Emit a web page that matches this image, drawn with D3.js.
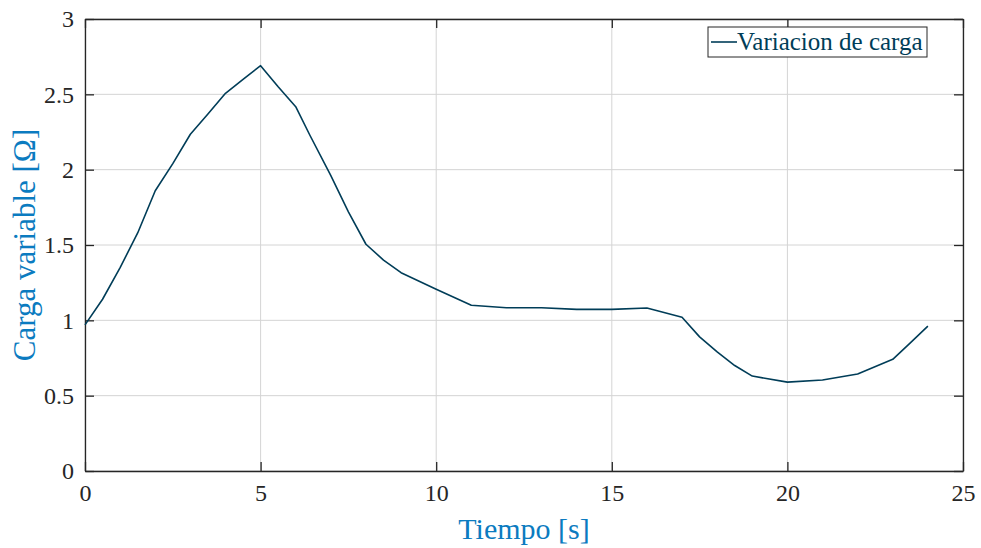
<!DOCTYPE html>
<html>
<head>
<meta charset="utf-8">
<script src="https://cdn.jsdelivr.net/npm/d3@7"></script>
<style>
  body { margin: 0; background: #fff; }
  svg text { font-family: "Liberation Serif", "Times New Roman", serif; }
</style>
</head>
<body>
<script>
// tiempo [s] y carga [ohm]
var tiempo = [0, 0.5, 1, 1.5, 2, 2.5, 3, 3.5, 4, 4.5, 5, 5.5, 6, 6.4, 7, 7.5, 8, 8.5, 9, 10, 11, 12, 13, 14, 15, 16, 17, 17.5, 18, 18.5, 19, 20, 21, 22, 23, 23.5, 24];
var carga = [0.97, 1.14, 1.35, 1.58, 1.86, 2.04, 2.235, 2.37, 2.507, 2.6, 2.69, 2.55, 2.418, 2.23, 1.96, 1.72, 1.505, 1.40, 1.316, 1.206, 1.10, 1.084, 1.084, 1.073, 1.073, 1.082, 1.02, 0.89, 0.79, 0.70, 0.63, 0.59, 0.604, 0.644, 0.741, 0.85, 0.962];
var xTicks = [0, 5, 10, 15, 20, 25];
var yTicks = [0, 0.5, 1, 1.5, 2, 2.5, 3];
var serie = "Variacion de carga";

var W = 981, H = 548;
var margin = {top: 19, right: 18, bottom: 77, left: 85},
    width = W - margin.left - margin.right,
    height = H - margin.top - margin.bottom;

var svg = d3.select("body").append("svg")
    .attr("width", W)
    .attr("height", H);

var g = svg.append("g")
    .attr("transform", "translate(" + margin.left + "," + margin.top + ")");

var x = d3.scaleLinear().domain([0, 25]).range([0, width]);
var y = d3.scaleLinear().domain([0, 3]).range([height, 0]);

// rejilla
g.append("g").selectAll("line").data(xTicks).enter().append("line")
    .attr("x1", d => x(d)).attr("x2", d => x(d))
    .attr("y1", 0).attr("y2", height)
    .attr("stroke", "#d4d4d4").attr("stroke-width", 1);
g.append("g").selectAll("line").data(yTicks).enter().append("line")
    .attr("x1", 0).attr("x2", width)
    .attr("y1", d => y(d)).attr("y2", d => y(d))
    .attr("stroke", "#d4d4d4").attr("stroke-width", 1);

// ejes con marcas hacia dentro
var ax = g.append("g").attr("transform", "translate(0," + height + ")")
    .call(d3.axisBottom(x).tickValues(xTicks).tickSizeInner(-9).tickSizeOuter(0).tickPadding(13));
var ay = g.append("g")
    .call(d3.axisLeft(y).tickValues(yTicks).tickSizeInner(-9).tickSizeOuter(0).tickPadding(11)
        .tickFormat(d3.format("")));
var axTop = g.append("g")
    .call(d3.axisTop(x).tickValues(xTicks).tickSizeInner(-9).tickSizeOuter(0).tickFormat(""));
var ayRight = g.append("g").attr("transform", "translate(" + width + ",0)")
    .call(d3.axisRight(y).tickValues(yTicks).tickSizeInner(-9).tickSizeOuter(0).tickFormat(""));

[ax, ay, axTop, ayRight].forEach(function(a) {
    a.select(".domain").attr("stroke", "#262626").attr("stroke-width", 1.3);
    a.selectAll(".tick line").attr("stroke", "#262626").attr("stroke-width", 1.3);
    a.selectAll(".tick text")
        .style("font-family", '"Liberation Serif", serif')
        .style("font-size", "24px")
        .attr("fill", "#262626");
});

// curva
var line = d3.line()
    .x(function(d, i) { return x(tiempo[i]); })
    .y(function(d) { return y(d); });

g.append("path")
    .datum(carga)
    .attr("fill", "none")
    .attr("stroke", "#003d58")
    .attr("stroke-width", 1.6)
    .attr("stroke-linejoin", "round")
    .attr("d", line);

// leyenda
var leg = svg.append("g").attr("transform", "translate(708,27)");
leg.append("rect")
    .attr("width", 219).attr("height", 30)
    .attr("fill", "#fff").attr("stroke", "#262626").attr("stroke-width", 1);
leg.append("line")
    .attr("x1", 3).attr("x2", 29).attr("y1", 15).attr("y2", 15)
    .attr("stroke", "#003d58").attr("stroke-width", 1.6);
leg.append("text")
    .attr("x", 29).attr("y", 23)
    .attr("fill", "#003d58")
    .style("font-size", "25px")
    .text(serie);

// titulos de ejes
svg.append("text")
    .attr("x", margin.left + width / 2)
    .attr("y", 539)
    .attr("text-anchor", "middle")
    .attr("fill", "#0b7bc0")
    .style("font-size", "30px")
    .text("Tiempo [s]");

svg.append("text")
    .attr("transform", "translate(35," + (margin.top + height / 2) + ") rotate(-90)")
    .attr("text-anchor", "middle")
    .attr("fill", "#0b7bc0")
    .style("font-size", "31px")
    .text("Carga variable [Ω]");
</script>
</body>
</html>
